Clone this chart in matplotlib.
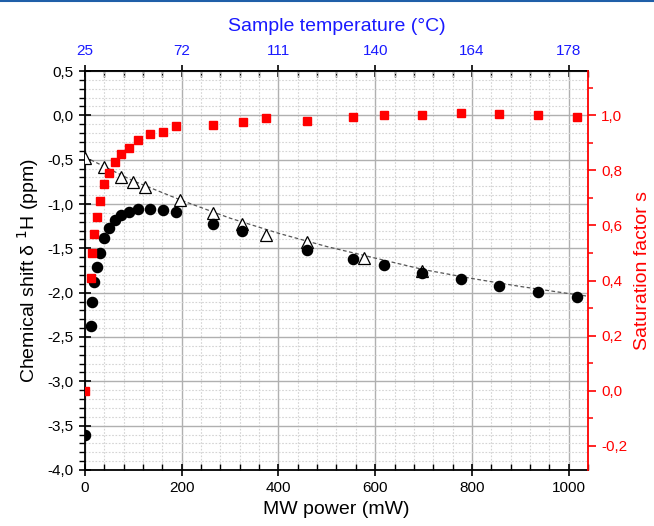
import matplotlib
matplotlib.use("Agg")
import matplotlib.pyplot as plt
from matplotlib.ticker import MultipleLocator, FuncFormatter
from matplotlib.lines import Line2D

plt.rcParams['font.family'] = ['Liberation Sans', 'DejaVu Sans']

# MW power (mW) for shift and saturation data
power = [0, 12, 15, 19, 25, 30, 40, 50, 62, 75, 90, 110, 135, 161, 189,
         265, 325, 458, 555, 618, 697, 777, 857, 937, 1017]
# chemical shift of 1H (ppm), black circles
shift = [-3.60, -2.38, -2.11, -1.88, -1.71, -1.55, -1.38, -1.27, -1.18, -1.12,
         -1.09, -1.06, -1.06, -1.07, -1.09, -1.22, -1.30, -1.52, -1.62, -1.69,
         -1.78, -1.85, -1.92, -1.99, -2.045]

# saturation factor s, red squares
sat_power = [0, 12, 15, 19, 25, 30, 39, 50, 62, 75, 90, 110, 135, 161, 189,
             265, 326, 374, 458, 555, 618, 697, 777, 857, 937, 1017]
sat = [0.0, 0.41, 0.50, 0.57, 0.63, 0.69, 0.75, 0.79, 0.83, 0.86, 0.88, 0.91,
       0.93, 0.94, 0.96, 0.965, 0.976, 0.988, 0.98, 0.995, 1.0, 0.999, 1.006,
       1.004, 1.0, 0.995]

# open triangles
tri_power = [0, 39, 75, 99, 123, 196, 265, 325, 374, 458, 577, 697]
tri_shift = [-0.48, -0.58, -0.69, -0.75, -0.81, -0.95, -1.10, -1.23, -1.35,
             -1.43, -1.61, -1.755]

# dashed fit curve
fit_power = [0, 100, 200, 300, 400, 500, 600, 700, 800, 900, 1000, 1040]
fit_shift = [-0.47, -0.74, -0.96, -1.16, -1.33, -1.48, -1.61, -1.74, -1.84,
             -1.93, -2.01, -2.04]

# top axis: sample temperature at the major power ticks
temp_ticks = [0, 200, 400, 600, 800, 1000]
temp_labels = ['25', '72', '111', '140', '164', '178']

RED = '#ff0000'
BLUE = '#1a1aff'

comma = FuncFormatter(lambda v, pos: f"{v:.1f}".replace('.', ','))

fig = plt.figure(figsize=(6.54, 5.26), dpi=100)
ax = fig.add_axes([0.130, 0.1065, 0.769, 0.7585])

ax.set_xlim(0, 1040)
ax.set_ylim(-4.0, 0.5)
ax.xaxis.set_major_locator(MultipleLocator(200))
ax.xaxis.set_minor_locator(MultipleLocator(40))
ax.yaxis.set_major_locator(MultipleLocator(0.5))
ax.yaxis.set_minor_locator(MultipleLocator(0.1))
ax.yaxis.set_major_formatter(comma)

ax.grid(which='major', color='#b0b0b0', lw=1.0, ls='-')
ax.grid(which='minor', color='#d4d4d4', lw=0.8, ls=(0, (1.5, 1.5)))
ax.set_axisbelow(True)

ax.tick_params(axis='both', which='major', labelsize=11, width=1.2, length=9,
               direction='inout', top=False, right=False)
ax.tick_params(axis='y', which='minor', direction='out', length=4, width=1)
ax.tick_params(axis='x', which='minor', direction='in', length=4, width=1)
for s in ['left', 'bottom', 'top']:
    ax.spines[s].set_linewidth(1.3)
ax.spines['right'].set_visible(False)

ax.plot(fit_power, fit_shift, ls=(0, (3, 2)), color='#555555', lw=0.9, zorder=2)
ax.plot(tri_power, tri_shift, ls='none', marker='^', ms=9, mfc='white',
        mec='black', mew=0.9, zorder=3)
ax.plot(power, shift, ls='none', marker='o', ms=7.3, color='black', zorder=4)

ax.set_xlabel('MW power (mW)', fontsize=14, labelpad=4)
ax.set_ylabel('Chemical shift δ $^1$H (ppm)', fontsize=14, labelpad=5)

# right axis
ax2 = ax.twinx()
ax2.set_ylim(-0.287, 1.16)
ax2.yaxis.set_major_locator(MultipleLocator(0.2))
ax2.yaxis.set_minor_locator(MultipleLocator(0.1))
ax2.yaxis.set_major_formatter(comma)
ax2.tick_params(axis='y', which='major', colors=RED, labelsize=11, length=6,
                width=1.2, direction='out')
ax2.tick_params(axis='y', which='minor', colors=RED, length=3.5, width=1.1,
                direction='out')
ax2.spines['right'].set_color(RED)
ax2.spines['right'].set_linewidth(1.3)
for s in ['left', 'bottom', 'top']:
    ax2.spines[s].set_visible(False)
ax2.plot(sat_power, sat, ls='none', marker='s', ms=5.6, color=RED, zorder=5)
ax2.set_ylabel('Saturation factor s', color=RED, fontsize=14, labelpad=5)

# top axis
top = ax.secondary_xaxis('top')
top.set_xticks(temp_ticks, labels=temp_labels)
top.xaxis.set_minor_locator(MultipleLocator(40))
top.tick_params(axis='x', which='major', colors='black', labelcolor=BLUE,
                labelsize=11, length=9, width=1.2, direction='inout', pad=5)
top.tick_params(axis='x', which='minor', length=4, width=1, direction='in')
top.spines['top'].set_linewidth(1.3)
top.set_xlabel('Sample temperature (°C)', color=BLUE, fontsize=14, labelpad=9)

# thin blue rule at the top of the page
fig.add_artist(Line2D([0, 1], [0.998, 0.998], color='#1f5fa8', lw=1.5,
                      transform=fig.transFigure))

fig.savefig('out.png', dpi=100)
